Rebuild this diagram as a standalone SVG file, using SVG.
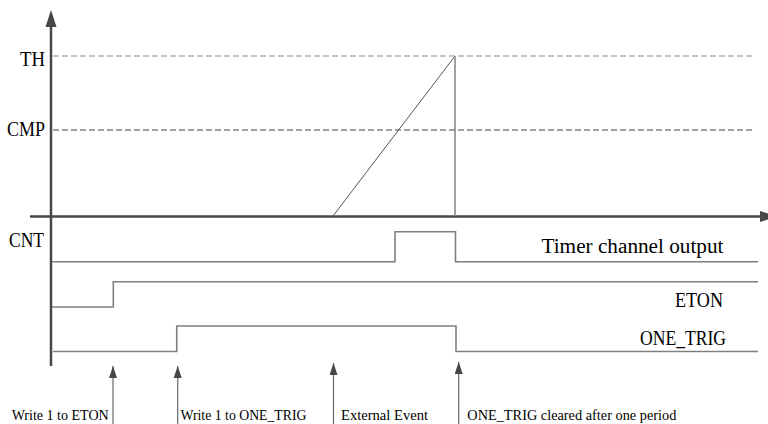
<svg xmlns="http://www.w3.org/2000/svg" width="768" height="424" viewBox="0 0 768 424">
<defs>
<style>
.axis{stroke:#474747;stroke-width:2.5;fill:none}
.sig{stroke:#7f7f7f;stroke-width:1.6;fill:none}
.ev{stroke:#666;stroke-width:1.2;fill:none}
.dashA{stroke:#8a8a8a;stroke-width:1.2;stroke-dasharray:6 3;fill:none}
.dashB{stroke:#444;stroke-width:1;stroke-dasharray:6 3;fill:none}
.ramp{stroke:#555;stroke-width:1;fill:none}
.vline{stroke:#8a8a8a;stroke-width:1.6;fill:none}
.head{fill:#474747}
.big{font-family:"Liberation Serif","Times New Roman",serif;font-size:20px;fill:#000}
.small{font-family:"Liberation Serif","Times New Roman",serif;font-size:15px;fill:#000}
</style>
<marker id="evArrow" markerWidth="12" markerHeight="8" refX="12" refY="4" orient="auto" markerUnits="userSpaceOnUse" viewBox="0 0 12 8">
<polygon points="0,0 12,4 0,8" fill="#474747"/>
</marker>
</defs>
<rect width="768" height="424" fill="#fff"/>

<g id="axes">
<line class="axis" x1="51" y1="24" x2="51" y2="366"/>
<polygon class="head" points="51,10 56.5,27 45.5,27"/>
<line class="axis" x1="30" y1="216.5" x2="762" y2="216.5"/>
<polygon class="head" points="777,216.5 760,211 760,222"/>
</g>

<g id="levels">
<line class="dashA" x1="53" y1="56" x2="752" y2="56"/>
<line class="dashB" x1="53" y1="130" x2="752" y2="130"/>
<text class="big" x="20" y="66" textLength="25" lengthAdjust="spacingAndGlyphs">TH</text>
<text class="big" x="7" y="136" textLength="38" lengthAdjust="spacingAndGlyphs">CMP</text>
</g>

<g id="counter">
<line class="ramp" x1="333" y1="216" x2="455" y2="56"/>
<line class="vline" x1="455" y1="56" x2="455" y2="216"/>
<text class="big" x="9" y="246.5" textLength="35" lengthAdjust="spacingAndGlyphs">CNT</text>
</g>

<g id="timer-output">
<polyline class="sig" points="52,261.7 395,261.7 395,231.7 455.5,231.7 455.5,261.7 758,261.7"/>
<text class="big" x="541.5" y="253.3" textLength="182" lengthAdjust="spacingAndGlyphs">Timer channel output</text>
</g>

<g id="eton">
<polyline class="sig" points="52,307 113.3,307 113.3,281.7 758,281.7"/>
<text class="big" x="675" y="306.7" textLength="48" lengthAdjust="spacingAndGlyphs">ETON</text>
</g>

<g id="one-trig">
<polyline class="sig" points="53,351.5 176.7,351.5 176.7,326 456,326 456,351.5 758,351.5"/>
<text class="big" x="640" y="345" textLength="86" lengthAdjust="spacingAndGlyphs">ONE_TRIG</text>
</g>

<g id="connectors">
<line class="ev" x1="113" y1="424" x2="113" y2="366" marker-end="url(#evArrow)"/>
<line class="ev" x1="177.7" y1="424" x2="177.7" y2="366" marker-end="url(#evArrow)"/>
<line class="ev" x1="333.5" y1="424" x2="333.5" y2="363" marker-end="url(#evArrow)"/>
<line class="ev" x1="458.7" y1="424" x2="458.7" y2="362" marker-end="url(#evArrow)"/>
</g>

<g id="event-labels">
<text class="small" x="11.7" y="420" textLength="97" lengthAdjust="spacingAndGlyphs">Write 1 to ETON</text>
<text class="small" x="180.5" y="420" textLength="126" lengthAdjust="spacingAndGlyphs">Write 1 to ONE_TRIG</text>
<text class="small" x="341" y="420" textLength="87" lengthAdjust="spacingAndGlyphs">External Event</text>
<text class="small" x="467.3" y="420" textLength="209" lengthAdjust="spacingAndGlyphs">ONE_TRIG cleared after one period</text>
</g>
</svg>
